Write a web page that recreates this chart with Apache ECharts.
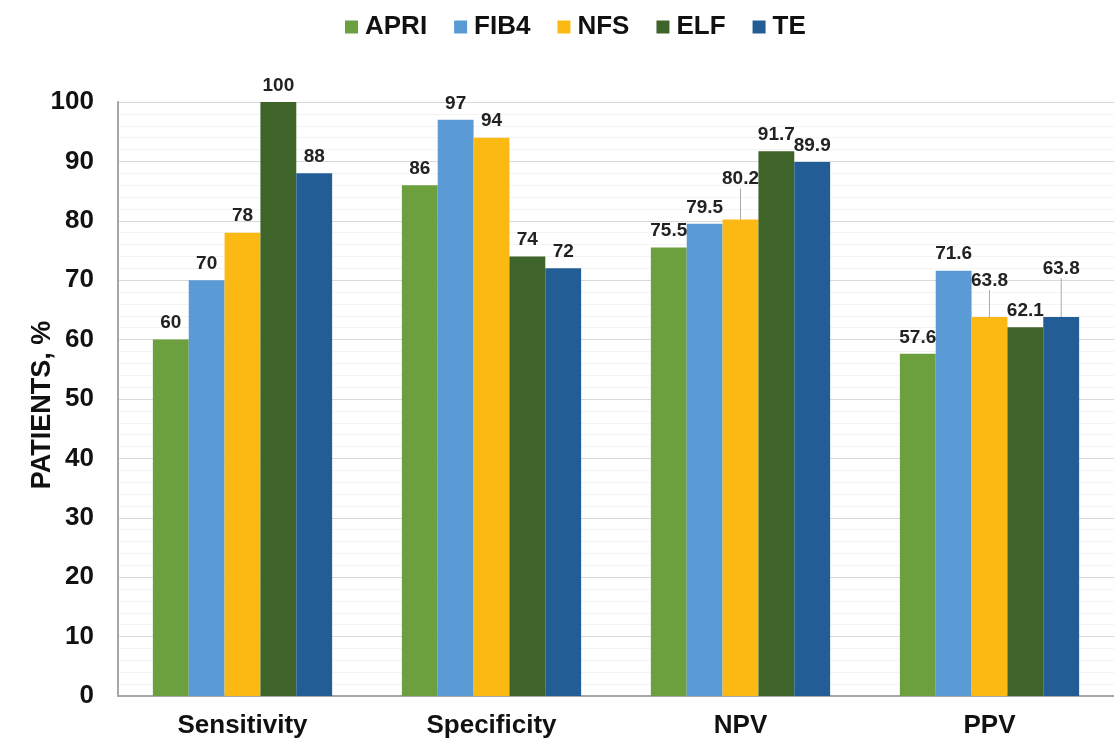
<!DOCTYPE html>
<html>
<head>
<meta charset="utf-8">
<title>Diagnostic performance</title>
<script src="https://cdn.jsdelivr.net/npm/echarts@6/dist/echarts.min.js"></script>
<style>
  html, body { margin: 0; padding: 0; background: #fff; }
  #chart { width: 1114px; height: 746px; }
</style>
</head>
<body>
<div id="chart"></div>
<script>
const categories = ['Sensitivity', 'Specificity', 'NPV', 'PPV'];
const seriesNames = ['APRI', 'FIB4', 'NFS', 'ELF', 'TE'];
const apri = [60, 86, 75.5, 57.6];
const fib4 = [70, 97, 79.5, 71.6];
const nfs = [78, 94, 80.2, 63.8];
const elf = [100, 74, 91.7, 62.1];
const te = [88, 72, 89.9, 63.8];
const yTicks = [0, 10, 20, 30, 40, 50, 60, 70, 80, 90, 100];

const colors = ['#6c9f3d', '#5b9bd5', '#fdb913', '#3f6429', '#235d95'];

// labels lifted above their bars (seriesIndex-dataIndex -> dy), drawn with a leader line
const liftedLabels = { '2-2': -24, '2-3': -20, '4-3': -32 };

const font = 'Liberation Sans, Arial, sans-serif';

const chart = echarts.init(document.getElementById('chart'));

const values = [apri, fib4, nfs, elf, te];

const option = {
  animation: false,
  color: colors,
  legend: {
    data: seriesNames,
    top: 9,
    left: 340,
    itemWidth: 13,
    itemHeight: 13,
    itemGap: 27,
    icon: 'rect',
    textStyle: { fontFamily: font, fontSize: 26, fontWeight: 'bold', color: '#111', padding: [0, 0, 0, 2] }
  },
  grid: {
    left: 118,
    top: 102,
    width: 1003,
    height: 594
  },
  xAxis: {
    type: 'category',
    data: categories,
    axisLine: { lineStyle: { color: '#a6a6a6', width: 2 } },
    axisTick: { show: false },
    axisLabel: {
      margin: 17,
      fontFamily: font,
      fontSize: 26,
      fontWeight: 'bold',
      color: '#111'
    }
  },
  yAxis: {
    type: 'value',
    min: yTicks[0],
    max: yTicks[yTicks.length - 1],
    interval: 10,
    name: 'PATIENTS, %',
    nameLocation: 'middle',
    nameGap: 62,
    nameMoveOverlap: false,
    nameTextStyle: { fontFamily: font, fontSize: 27, fontWeight: 'bold', color: '#111', padding: [0, 12, 0, 0] },
    axisLine: { show: true, lineStyle: { color: '#a6a6a6', width: 2 } },
    axisTick: { show: false },
    axisLabel: {
      margin: 24,
      fontFamily: font,
      fontSize: 26,
      fontWeight: 'bold',
      color: '#111'
    },
    splitLine: { lineStyle: { color: '#d9d9d9', width: 1 } },
    minorTick: { show: false, splitNumber: 5 },
    minorSplitLine: { show: true, lineStyle: { color: '#f3f3f3', width: 1 } }
  },
  series: seriesNames.map((name, si) => ({
    name: name,
    type: 'bar',
    data: values[si].map((v, di) => (
      liftedLabels[si + '-' + di]
        ? { value: v, labelLine: { show: true, lineStyle: { color: '#aaaaaa', width: 1 } } }
        : { value: v, labelLine: { show: false } }
    )),
    barGap: '0%',
    barCategoryGap: '28%',
    label: {
      show: true,
      position: 'top',
      distance: 7,
      fontFamily: font,
      fontSize: 19,
      fontWeight: 'bold',
      color: '#222'
    },
    labelLayout: (params) => {
      const dy = liftedLabels[si + '-' + params.dataIndex];
      return dy ? { dy: dy } : {};
    }
  }))
};

chart.setOption(option);
</script>
</body>
</html>
